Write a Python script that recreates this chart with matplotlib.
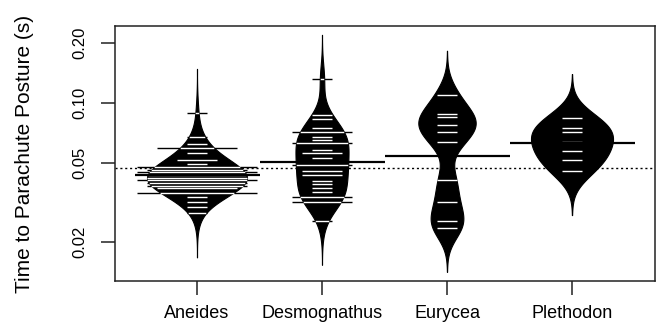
import numpy as np
import matplotlib.pyplot as plt

plt.rcParams['font.family'] = ['Liberation Sans', 'DejaVu Sans']

genera = ['Aneides', 'Desmognathus', 'Eurycea', 'Plethodon']

aneides_t = [0.0889, 0.0674, 0.0622, 0.0593, 0.0560, 0.0516, 0.0493, 0.0475, 0.0460, 0.0448, 0.0434,
             0.0421, 0.0408, 0.0396, 0.0384, 0.0372, 0.0354, 0.0338, 0.0319, 0.0299, 0.0279]
aneides_n = [1, 1, 1, 4, 1, 2, 1, 6, 5, 6, 5, 5, 6, 5, 5, 4, 6, 1, 1, 1, 1]

desmog_t = [0.1318, 0.0869, 0.0830, 0.0748, 0.0714, 0.0674, 0.0651, 0.0627, 0.0580, 0.0558, 0.0527,
            0.0487, 0.0455, 0.0434, 0.0406, 0.0390, 0.0372, 0.0355, 0.0338, 0.0319, 0.0256]
desmog_n = [1, 1, 1, 1, 3, 1, 1, 3, 1, 2, 1, 3, 2, 2, 1, 1, 1, 1, 3, 3, 1]

eurycea_t = [0.1096, 0.0879, 0.0847, 0.0774, 0.0717, 0.0634, 0.0410, 0.0317, 0.0255, 0.0236]
eurycea_n = [1, 1, 1, 1, 1, 1, 1, 1, 1, 1]

pletho_t = [0.0837, 0.0745, 0.0717, 0.0634, 0.0575, 0.0516, 0.0455]
pletho_n = [1, 1, 1, 1, 1, 1, 1]

groups = [(aneides_t, aneides_n), (desmog_t, desmog_n), (eurycea_t, eurycea_n), (pletho_t, pletho_n)]

bw = 0.074        # kernel sd in log10 units
cut = 3
maxwidth = 0.8
ll = 0.16         # bean line length per observation

fig = plt.figure(figsize=(6.7, 3.31), dpi=100)
ax = fig.add_axes([115 / 670, 1 - 281 / 331, 540 / 670, 255 / 331])
ax.set_yscale('log')

# densities on log scale
dens = []
for t, n in groups:
    lx = np.log10(t)
    wts = np.array(n, dtype=float)
    grid = np.linspace(lx.min() - cut * bw, lx.max() + cut * bw, 400)
    d = (wts[:, None] * np.exp(-0.5 * ((grid[None, :] - lx[:, None]) / bw) ** 2)).sum(0)
    d = d / (wts.sum() * bw * np.sqrt(2 * np.pi))
    dens.append((grid, d))
scale = (maxwidth / 2) / max(d.max() for g, d in dens)

all_logs = np.concatenate([np.repeat(np.log10(t), n) for t, n in groups])
ax.axhline(10 ** all_logs.mean(), color='black', ls=(0, (1.5, 2.0)), lw=1.0, zorder=1)

for i, ((t, n), (grid, d)) in enumerate(zip(groups, dens)):
    pos = i + 1
    w = d * scale
    ax.fill_betweenx(10 ** grid, pos - w, pos + w, color='black', lw=0.8, zorder=2)
    for v, c in zip(t, n):
        h = ll / 2 * c
        wi = np.interp(np.log10(v), grid, w)
        if h <= wi:
            ax.plot([pos - h, pos + h], [v, v], color='white', lw=1.0, zorder=3, solid_capstyle='butt')
        else:
            ax.plot([pos - wi, pos + wi], [v, v], color='white', lw=1.0, zorder=3, solid_capstyle='butt')
            ax.plot([pos - h, pos - wi], [v, v], color='black', lw=1.0, zorder=3, solid_capstyle='butt')
            ax.plot([pos + wi, pos + h], [v, v], color='black', lw=1.0, zorder=3, solid_capstyle='butt')
    gm = 10 ** np.average(np.log10(t), weights=n)
    ax.plot([pos - 0.5, pos + 0.5], [gm, gm], color='black', lw=1.6, zorder=4, solid_capstyle='butt')

ax.set_xlim(0.344, 4.664)
ax.set_ylim(0.01273, 0.2434)
ax.set_xticks(range(1, 5))
ax.set_xticklabels(genera, fontsize=13)
ax.set_yticks([0.02, 0.05, 0.10, 0.20])
ax.set_yticklabels(['0.02', '0.05', '0.10', '0.20'], fontsize=12, rotation=90, va='center')
ax.minorticks_off()
ax.tick_params(axis='both', length=10, width=1.1, color='#222222')
ax.tick_params(axis='x', pad=7)
ax.tick_params(axis='y', pad=10)
for s in ax.spines.values():
    s.set_linewidth(1.1)
    s.set_color('#222222')

ax.set_ylabel('Time to Parachute Posture (s)', fontsize=15)
ax.yaxis.set_label_coords(-0.15, 0.5)

fig.savefig('out.png', dpi=100)
